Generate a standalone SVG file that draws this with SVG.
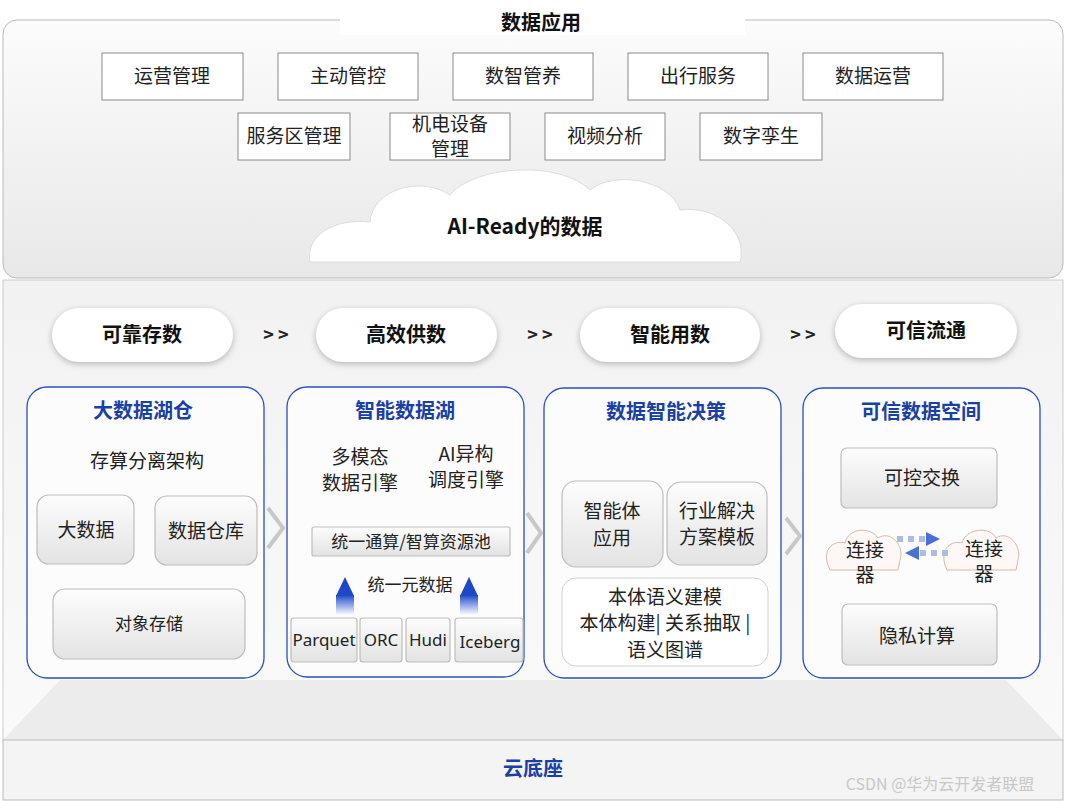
<svg xmlns="http://www.w3.org/2000/svg" width="1066" height="801" viewBox="0 0 1066 801">
<defs>
<linearGradient id="topg" x1="0" y1="0" x2="0" y2="1"><stop offset="0" stop-color="#fcfcfc"/><stop offset="1" stop-color="#e8e8e8"/></linearGradient>
<linearGradient id="midg" x1="0" y1="0" x2="0" y2="1"><stop offset="0" stop-color="#f2f2f2"/><stop offset="1" stop-color="#fafafa"/></linearGradient>
<linearGradient id="btng" x1="0" y1="0" x2="0" y2="1"><stop offset="0" stop-color="#fdfdfd"/><stop offset="1" stop-color="#e3e3e3"/></linearGradient>
<linearGradient id="upa" x1="0" y1="1" x2="0" y2="0"><stop offset="0" stop-color="#2d5ad6" stop-opacity="0"/><stop offset="1" stop-color="#1e48c8"/></linearGradient>
<style>
text{font-family:"Noto Sans CJK SC","Liberation Sans",sans-serif;text-anchor:middle}
.app{fill:#fff;stroke:#8a8a8a;stroke-width:1}
.t18{font-size:19px;fill:#222}
.t17{font-size:17px;fill:#222}
.pill{fill:#fff;filter:drop-shadow(0 2px 3px rgba(0,0,0,0.25))}
.ph{font-size:20px;font-weight:bold;fill:#111}
.panel{fill:#fcfcfd;stroke:#2a4fbf;stroke-width:1.3}
.pt{font-size:20px;font-weight:bold;fill:#1a3fa8}
.bx{fill:url(#btng);stroke:#bdbdbd;stroke-width:1.2}
.chev{fill:none;stroke:#c8c8c8;stroke-width:4}
</style>
</defs>
<rect x="3" y="20" width="1060" height="258" rx="14" fill="url(#topg)" stroke="#bbb"/>
<rect x="3" y="280" width="1060" height="460" fill="url(#midg)" stroke="#ccc"/>
<polygon points="3,740 60,680 1006,680 1063,740" fill="#ececec"/>
<rect x="3" y="740" width="1060" height="60" fill="#f4f4f4" stroke="#bbb"/>
<text x="533" y="776" style="font-size:20px;font-weight:bold;fill:#1a3fa8">云底座</text>
<g id="title"><rect x="340" y="8" width="405" height="27" fill="#fff"/><text x="541" y="30" style="font-size:20px;font-weight:bold;fill:#111">数据应用</text></g>
<g id="apps">
<rect class="app" x="102" y="53" width="141" height="47"/><text class="t18" x="172" y="83">运营管理</text>
<rect class="app" x="278" y="53" width="140" height="47"/><text class="t18" x="348" y="83">主动管控</text>
<rect class="app" x="453" y="53" width="140" height="47"/><text class="t18" x="523" y="83">数智管养</text>
<rect class="app" x="628" y="53" width="140" height="47"/><text class="t18" x="698" y="83">出行服务</text>
<rect class="app" x="803" y="53" width="140" height="47"/><text class="t18" x="873" y="83">数据运营</text>
<rect class="app" x="238" y="113" width="112" height="47"/><text class="t18" x="294" y="143">服务区管理</text>
<rect class="app" x="390" y="113" width="120" height="47"/><text class="t18" x="450" y="131">机电设备</text><text class="t18" x="450" y="156">管理</text>
<rect class="app" x="545" y="113" width="120" height="47"/><text class="t18" x="605" y="143">视频分析</text>
<rect class="app" x="700" y="113" width="122" height="47"/><text class="t18" x="761" y="143">数字孪生</text>
</g>
<g id="cloud">
<path d="M310,262 C305,235 335,218 370,222 C372,190 420,175 450,195 C475,165 560,160 590,190 C615,170 670,180 680,210 C720,205 748,235 740,262 Z" fill="#fff" stroke="#ddd"/>
<text x="525" y="234" style="font-size:21px;font-weight:bold;fill:#111">AI-Ready的数据</text>
</g>
<g id="pills">
<rect class="pill" x="52" y="308" width="181" height="54" rx="27"/><text class="ph" x="142" y="342">可靠存数</text>
<rect class="pill" x="316" y="308" width="181" height="54" rx="27"/><text class="ph" x="406" y="342">高效供数</text>
<rect class="pill" x="580" y="308" width="180" height="54" rx="27"/><text class="ph" x="670" y="342">智能用数</text>
<rect class="pill" x="835" y="304" width="182" height="54" rx="27"/><text class="ph" x="926" y="338">可信流通</text>
<text x="276" y="341" style="font-size:18px;font-weight:bold;fill:#222">&gt; &gt;</text>
<text x="540" y="341" style="font-size:18px;font-weight:bold;fill:#222">&gt; &gt;</text>
<text x="803" y="341" style="font-size:18px;font-weight:bold;fill:#222">&gt; &gt;</text>
</g>
<g id="p1">
<rect class="panel" x="27" y="387" width="237" height="291" rx="20"/>
<text class="pt" x="143" y="418">大数据湖仓</text>
<text class="t18" x="147" y="468">存算分离架构</text>
<rect class="bx" x="37" y="495" width="97" height="69" rx="12"/><text class="t18" x="86" y="537">大数据</text>
<rect class="bx" x="155" y="496" width="102" height="69" rx="12"/><text class="t18" x="206" y="538">数据仓库</text>
<rect class="bx" x="53" y="589" width="192" height="70" rx="12"/><text class="t17" x="149" y="630">对象存储</text>
</g>
<g id="p2">
<rect class="panel" x="287" y="387" width="237" height="290" rx="20"/>
<text class="pt" x="405" y="418">智能数据湖</text>
<text class="t18" x="360" y="464">多模态</text><text class="t18" x="360" y="490">数据引擎</text>
<text class="t18" x="466" y="461">AI异构</text><text class="t18" x="466" y="487">调度引擎</text>
<rect class="bx" x="312" y="527" width="198" height="29" rx="2"/><text class="t17" x="411" y="548">统一通算/智算资源池</text>
<text class="t17" x="410" y="591">统一元数据</text>
<rect class="bx" x="291" y="618" width="66" height="44" rx="3"/><text class="t17" x="324" y="646" style="font-family:'Noto Sans',sans-serif">Parquet</text>
<rect class="bx" x="360" y="618" width="42" height="44" rx="3"/><text class="t17" x="381" y="646" style="font-family:'Noto Sans',sans-serif">ORC</text>
<rect class="bx" x="406" y="618" width="44" height="44" rx="3"/><text class="t17" x="428" y="646" style="font-family:'Noto Sans',sans-serif">Hudi</text>
<rect class="bx" x="455" y="618" width="68" height="44" rx="3"/><text class="t17" x="490" y="648" style="font-family:'Noto Sans',sans-serif">Iceberg</text>
</g>
<g id="p3">
<rect class="panel" x="544" y="388" width="237" height="290" rx="20"/>
<text class="pt" x="666" y="419">数据智能决策</text>
<rect class="bx" x="562" y="481" width="101" height="86" rx="14"/><text class="t18" x="612" y="518">智能体</text><text class="t18" x="612" y="545">应用</text>
<rect class="bx" x="667" y="482" width="100" height="83" rx="14"/><text class="t18" x="717" y="518">行业解决</text><text class="t18" x="717" y="544">方案模板</text>
<rect x="562" y="578" width="206" height="88" rx="14" fill="#fff" stroke="#d0d0d0"/>
<text class="t18" x="665" y="604">本体语义建模</text>
<text class="t18" x="665" y="630">本体构建| 关系抽取 |</text>
<text class="t18" x="665" y="657">语义图谱</text>
</g>
<g id="p4">
<rect class="panel" x="803" y="388" width="237" height="290" rx="20"/>
<text class="pt" x="921" y="419">可信数据空间</text>
<rect class="bx" x="841" y="448" width="156" height="60" rx="6"/><text class="t18" x="922" y="485">可控交换</text>
<path d="M828,565 C822,548 835,540 845,543 C848,528 870,526 878,538 C890,530 905,545 900,560 L898,570 L830,570 Z" fill="#fdf8f6" stroke="#d9b8a8"/>
<text class="t18" x="865" y="557">连接</text><text class="t18" x="865" y="582">器</text>
<path d="M945,565 C940,548 952,540 962,543 C966,528 990,526 996,538 C1008,530 1022,545 1018,560 L1016,570 L947,570 Z" fill="#fdf8f6" stroke="#d9b8a8"/>
<text class="t18" x="984" y="556">连接</text><text class="t18" x="984" y="581">器</text>
<rect class="bx" x="842" y="604" width="155" height="61" rx="6"/><text class="t18" x="917" y="643">隐私计算</text>
</g>
<g id="connectors">
<path class="chev" d="M268,508 L283,528 L268,548"/>
<path class="chev" d="M527,513 L541,533 L527,553"/>
<path class="chev" d="M786,518 L800,536 L786,554"/>
<rect x="336" y="595" width="18" height="20" fill="url(#upa)"/><polygon points="336,596 345,577 354,596" fill="#1e48c8"/>
<rect x="460" y="595" width="18" height="20" fill="url(#upa)"/><polygon points="460,596 469,577 478,596" fill="#1e48c8"/>
<line x1="897" y1="539" x2="928" y2="539" stroke="#a9bde8" stroke-width="6" stroke-dasharray="6,5"/><polygon points="926,532 940,539 926,546" fill="#4a6fd8"/>
<line x1="920" y1="553" x2="950" y2="553" stroke="#a9bde8" stroke-width="6" stroke-dasharray="6,5"/><polygon points="919,546 905,553 919,560" fill="#4a6fd8"/>
</g>
<text x="940" y="790" style="font-size:16px;fill:#c8c8c8">CSDN @华为云开发者联盟</text>
</svg>
